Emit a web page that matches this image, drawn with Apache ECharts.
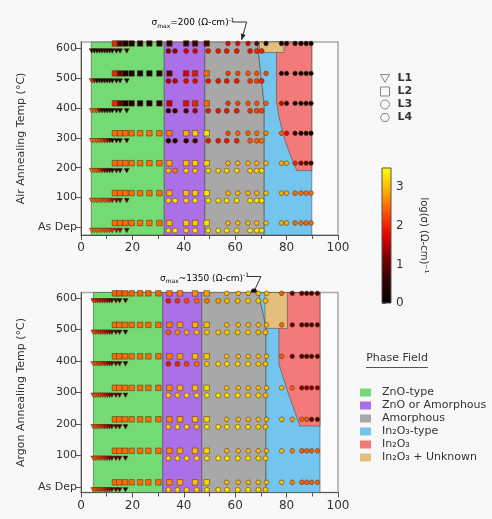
<!DOCTYPE html>
<html>
<head>
<meta charset="utf-8">
<script src="https://cdn.jsdelivr.net/npm/echarts@6/dist/echarts.min.js"></script>
<style>
  html, body { margin: 0; padding: 0; background: #f8f8f8; }
  #chart { width: 492px; height: 519px; }
</style>
</head>
<body>
<div id="chart"></div>
<script>
// annealing rows, As Dep first
const temps = [0, 100, 200, 300, 400, 500, 600];
const sigmaTicks = [0, 1, 2, 3];
const sigmaRange = [0, 3.5];

// ---- Air anneal: x = In content (at.%), values = log(sigma) per row
const airL1x = [4.2, 5.2, 6.2, 7.2, 8.2, 9.2, 10.2, 11.2, 12.2, 13.8, 15.2, 17.8];
const airL1 = [
  [2.5, 2.5, 2.5, 2.4, 2.4, 2.3, 2.3, 2.2, 2.0, 1.6, 1.3, 1.0],
  [2.5, 2.5, 2.4, 2.4, 2.3, 2.3, 2.2, 2.0, 1.5, 1.2, 0.9, 0.8],
  [2.5, 2.4, 2.3, 2.0, 1.6, 1.0, 0.6, 0.5, 0.4, 0.4, 0.4, 0.3],
  [2.5, 2.5, 2.4, 2.3, 2.1, 1.8, 1.4, 0.5, 0.3, 0.2, 0.2, 0.2],
  [2.5, 2.4, 2.2, 1.2, 0.4, 0.3, 0.2, 0.2, 0.2, 0.2, 0.2, 0.2],
  [2.1, 1.4, 0.4, 0.2, 0.2, 0.2, 0.2, 0.2, 0.2, 0.2, 0.2, 0.2],
  [0.2, 0.2, 0.2, 0.2, 0.2, 0.2, 0.2, 0.2, 0.2, 0.2, 0.2, 0.2]
];
const airL2x = [13.2, 15.2, 17.3, 19.7, 23, 26.6, 30.5, 34.4, 40.9, 44.4, 48.9];
const airL2 = [
  [2.5, 2.5, 2.5, 2.5, 2.5, 2.5, 2.5, 3.0, 3.1, 3.1, 3.3],
  [2.5, 2.5, 2.5, 2.5, 2.5, 2.5, 2.5, 2.9, 3.0, 3.1, 3.3],
  [2.5, 2.5, 2.5, 2.5, 2.5, 2.5, 2.5, 2.9, 3.0, 3.1, 3.2],
  [2.5, 2.5, 2.5, 2.5, 2.5, 2.5, 2.5, 2.6, 2.9, 3.1, 3.3],
  [2.0, 1.0, 0.3, 0.3, 0.3, 0.3, 0.5, 1.6, 1.8, 2.0, 2.5],
  [2.0, 1.0, 0.3, 0.3, 0.3, 0.3, 0.4, 0.9, 1.7, 1.9, 2.5],
  [2.0, 0.8, 0.3, 0.3, 0.3, 0.3, 0.3, 0.6, 0.5, 0.7, 0.8]
];
const airL3x = [34, 36.6, 40.9, 44.4, 49.5, 53.4, 56.7, 60.6, 65.8, 68.4, 70.3];
const airL3 = [
  [3.2, 3.3, 3.2, 3.3, 3.3, 3.3, 3.3, 3.3, 3.3, 3.3, 3.3],
  [3.2, 3.3, 3.2, 3.3, 3.3, 3.3, 3.3, 3.3, 3.3, 3.3, 3.3],
  [3.0, 2.6, 3.1, 3.1, 3.2, 3.2, 3.2, 3.2, 3.2, 3.2, 3.2],
  [0.2, 0.3, 0.5, 0.7, 1.9, 1.9, 1.9, 2.0, 2.3, 2.4, 2.5],
  [0.3, 0.5, 0.8, 1.4, 1.9, 1.9, 1.9, 1.9, 2.1, 2.2, 2.2],
  [1.4, 1.5, 1.8, 1.8, 1.9, 1.9, 1.9, 1.9, 2.1, 2.2, 2.0],
  [1.2, 1.3, 1.7, 1.7, 1.9, 1.9, 1.9, 1.9, 1.9, 2.0, 2.0]
];
const airL4x = [57.2, 61, 65, 68.4, 72, 78, 80, 83.3, 85.6, 87.6, 89.5];
const airL4 = [
  [3.0, 3.0, 3.0, 3.0, 3.0, 2.9, 2.9, 2.5, 2.5, 2.5, 2.5],
  [3.0, 3.0, 3.0, 3.0, 3.0, 2.9, 2.9, 2.5, 2.5, 2.5, 2.5],
  [3.0, 3.0, 3.0, 3.0, 3.0, 2.9, 2.9, 2.0, 1.2, 1.0, 0.8],
  [2.3, 2.4, 2.4, 2.5, 2.7, 2.4, 1.8, 0.6, 0.3, 0.3, 0.3],
  [2.1, 2.2, 2.3, 2.3, 2.4, 1.7, 0.6, 0.2, 0.2, 0.2, 0.2],
  [2.1, 2.2, 2.3, 2.3, 2.2, 0.3, 0.3, 0.2, 0.2, 0.2, 0.2],
  [1.8, 1.8, 1.7, 1.0, 0.2, 0.3, 0.3, 0.2, 0.2, 0.2, 0.2]
];

// ---- Argon anneal
const arL1x = [4.8, 5.7, 6.6, 7.5, 8.4, 9.3, 10.2, 11.1, 12, 13.6, 15, 17.3];
const arL1 = [
  [2.3, 2.3, 2.2, 2.1, 2.0, 1.8, 1.5, 1.2, 1.0, 0.8, 0.7, 0.6],
  [2.3, 2.3, 2.2, 2.1, 2.0, 1.8, 1.5, 1.2, 1.0, 0.8, 0.7, 0.6],
  [2.3, 2.2, 2.1, 2.0, 1.9, 1.7, 1.4, 1.1, 0.9, 0.8, 0.6, 0.5],
  [2.3, 2.3, 2.2, 2.1, 2.0, 1.8, 1.5, 1.2, 1.0, 0.8, 0.7, 0.6],
  [2.4, 2.3, 2.2, 2.1, 2.0, 1.8, 1.5, 1.2, 1.0, 0.8, 0.7, 0.6],
  [2.2, 2.1, 2.0, 1.9, 1.8, 1.6, 1.4, 1.1, 0.9, 0.7, 0.6, 0.5],
  [1.9, 1.9, 1.8, 1.7, 1.6, 1.4, 1.2, 1.0, 0.8, 0.6, 0.5, 0.4]
];
const arL2x = [13.2, 14.9, 17.1, 19.7, 23, 26.2, 30.1, 34.4, 38.5, 44.4, 48.9];
const arL2 = [
  [2.5, 2.5, 2.5, 2.5, 2.5, 2.5, 2.5, 2.7, 2.9, 3.0, 3.2],
  [2.5, 2.5, 2.5, 2.5, 2.5, 2.5, 2.5, 2.7, 2.9, 3.0, 3.2],
  [2.5, 2.5, 2.5, 2.5, 2.5, 2.5, 2.5, 2.7, 2.9, 3.0, 3.2],
  [2.5, 2.5, 2.5, 2.5, 2.5, 2.5, 2.5, 2.7, 2.9, 3.0, 3.2],
  [2.5, 2.5, 2.5, 2.5, 2.5, 2.5, 2.5, 2.6, 2.8, 3.0, 3.1],
  [2.5, 2.5, 2.5, 2.5, 2.5, 2.5, 2.5, 2.6, 2.8, 2.9, 3.0],
  [2.4, 2.4, 2.4, 2.4, 2.4, 2.4, 2.4, 2.5, 2.6, 2.7, 2.8]
];
const arL3x = [34, 37.5, 41.1, 45, 49, 53.4, 56.8, 61, 65, 69, 71.8];
const arL3 = [
  [3.2, 3.2, 3.2, 3.2, 3.3, 3.3, 3.3, 3.3, 3.3, 3.2, 3.1],
  [3.1, 3.2, 3.2, 3.2, 3.3, 3.4, 3.4, 3.3, 3.3, 3.2, 3.1],
  [3.1, 3.2, 3.2, 3.1, 3.3, 3.3, 3.3, 3.3, 3.2, 3.2, 3.1],
  [3.1, 3.1, 3.2, 3.2, 3.3, 3.3, 3.3, 3.3, 3.2, 3.2, 3.0],
  [1.9, 2.0, 2.2, 2.5, 3.1, 3.2, 3.2, 3.2, 3.2, 3.1, 3.0],
  [2.4, 2.7, 2.9, 3.0, 3.1, 3.1, 3.1, 3.1, 3.1, 3.0, 3.0],
  [1.9, 2.1, 2.3, 2.5, 2.6, 2.8, 3.0, 3.0, 3.1, 3.1, 3.0]
];
const arL4x = [56.7, 61.2, 65.1, 69, 72.2, 78.1, 82.2, 85.9, 87.8, 89.7, 92];
const arL4 = [
  [3.0, 3.0, 3.0, 3.0, 3.0, 3.0, 2.6, 2.4, 2.4, 2.4, 2.4],
  [3.0, 3.0, 3.0, 3.0, 3.0, 3.0, 2.6, 2.4, 2.4, 2.4, 2.4],
  [3.0, 3.0, 3.0, 3.0, 3.0, 3.0, 2.8, 2.4, 2.3, 1.0, 0.8],
  [3.0, 3.0, 3.0, 3.0, 3.0, 3.0, 2.4, 1.3, 1.3, 1.3, 1.3],
  [3.0, 3.0, 3.0, 3.0, 3.0, 2.4, 0.9, 0.9, 0.9, 0.9, 0.9],
  [3.0, 3.0, 3.0, 3.0, 3.0, 2.5, 0.9, 0.9, 0.9, 0.9, 0.9],
  [3.0, 3.0, 3.0, 3.0, 3.0, 2.4, 0.8, 0.8, 0.8, 0.8, 0.8]
];

// ---- phase field outlines [x, temp]
const phaseNames = ["ZnO-type", "ZnO or Amorphous", "Amorphous", "In\u2082O\u2083-type", "In\u2082O\u2083", "In\u2082O\u2083 + Unknown"];
const phaseColors = ["#74da74", "#ab6fe8", "#a8a8a8", "#74c5ee", "#f27a7a", "#e4bf7c"];
const airPhases = [
  [[4, -25], [32.4, -25], [32.4, 620], [4, 620]],
  [[32.4, -25], [48.2, -25], [48.2, 620], [32.4, 620]],
  [[48.2, -25], [71.3, -25], [71.3, 410], [68.6, 620], [48.2, 620]],
  [[71.3, -25], [89.8, -25], [89.8, 620], [68.6, 620], [71.3, 410]],
  [[76.1, 620], [89.8, 620], [89.8, 190], [84, 190], [82, 230], [79.4, 290], [77, 370], [76.1, 420]],
  [[69.4, 585], [79, 585], [79, 620], [69.4, 620]]
];
const arPhases = [
  [[4.8, -18], [31.8, -18], [31.8, 617], [4.8, 617]],
  [[31.8, -18], [47, -18], [47, 617], [31.8, 617]],
  [[47, -18], [72, -18], [72, 508], [69, 617], [47, 617]],
  [[72, -18], [93, -18], [93, 617], [69, 617], [72, 508]],
  [[77, 617], [93, 617], [93, 193], [85.2, 193], [80.5, 300], [77, 390]],
  [[71.6, 503], [80.3, 503], [80.3, 617], [71.6, 617]]
];

// black -> red -> yellow colour scale
const heatColors = ["#000000", "#300000", "#780000", "#e00000", "#ff5000", "#ffb000", "#ffff00"];

const triDown = "path://M0,0L10,0L5,8.66Z";
const hexagon = "path://M2.5,0L7.5,0L10,4.33L7.5,8.66L2.5,8.66L0,4.33Z";
const font = "DejaVu Sans";

const chart = echarts.init(document.getElementById("chart"));

function phaseSeries(i, pts, gi) {
  return {
    name: phaseNames[i],
    type: "custom",
    xAxisIndex: gi,
    yAxisIndex: gi,
    z: 1,
    silent: true,
    itemStyle: { color: phaseColors[i] },
    data: [pts[0]],
    renderItem: function (params, api) {
      return {
        type: "polygon",
        shape: { points: pts.map((p) => api.coord(p)) },
        style: { fill: phaseColors[i], stroke: "rgba(70,70,70,0.55)", lineWidth: 1 },
      };
    },
  };
}

function libSeries(name, symbol, size, dy, xs, rows, gi) {
  const data = [];
  rows.forEach((vals, r) => {
    vals.forEach((v, k) => data.push([xs[k], temps[r], v]));
  });
  return {
    name: name,
    type: "scatter",
    xAxisIndex: gi,
    yAxisIndex: gi,
    symbol: symbol,
    symbolSize: size,
    symbolOffset: [0, dy],
    z: 3,
    data: data,
    itemStyle: { borderColor: "rgba(80,55,30,0.8)", borderWidth: 0.7, opacity: 1 },
    emphasis: { disabled: true },
  };
}

function tempAxis(gi, min, max, name) {
  return {
    type: "value",
    gridIndex: gi,
    min: min,
    max: max,
    name: name,
    nameLocation: "middle",
    nameGap: 52,
    nameTextStyle: { fontSize: 11, color: "#333", fontFamily: font },
    axisLine: { show: true, lineStyle: { color: "#555" } },
    axisTick: { show: true, length: 5, customValues: temps, lineStyle: { color: "#555" } },
    axisLabel: {
      customValues: temps,
      fontSize: 11,
      color: "#333",
      fontFamily: font,
      margin: 4,
      formatter: (v) => (v === 0 ? "As Dep" : String(v)),
    },
    splitLine: { show: false },
  };
}

function compAxis(gi) {
  return {
    type: "value",
    gridIndex: gi,
    min: 0,
    max: 100,
    interval: 20,
    axisLine: { show: true, onZero: false, lineStyle: { color: "#555" } },
    axisTick: { length: 5, lineStyle: { color: "#555" } },
    minorTick: { show: true, splitNumber: 2, length: 4, lineStyle: { color: "#555" } },
    axisLabel: { fontSize: 12, color: "#333", fontFamily: font, margin: 7 },
    splitLine: { show: false },
  };
}

const series = [];
airPhases.forEach((p, i) => series.push(phaseSeries(i, p, 0)));
arPhases.forEach((p, i) => series.push(phaseSeries(i, p, 1)));
const firstScatter = series.length;
series.push(libSeries("L1", triDown, [5, 4.5], 3, airL1x, airL1, 0));
series.push(libSeries("L2", "rect", 5.5, -4.5, airL2x, airL2, 0));
series.push(libSeries("L3", "circle", 5, 3, airL3x, airL3, 0));
series.push(libSeries("L4", hexagon, [5, 4.4], -4.5, airL4x, airL4, 0));
series.push(libSeries("L1", triDown, [5, 4.5], 3, arL1x, arL1, 1));
series.push(libSeries("L2", "rect", 5.5, -4.5, arL2x, arL2, 1));
series.push(libSeries("L3", "circle", 5, 3, arL3x, arL3, 1));
series.push(libSeries("L4", hexagon, [5, 4.4], -4.5, arL4x, arL4, 1));
const scatterIdx = [];
for (let i = firstScatter; i < series.length; i++) scatterIdx.push(i);

// colour bar drawn in its own small grid
series.push({
  type: "custom",
  xAxisIndex: 2,
  yAxisIndex: 2,
  silent: true,
  data: [[0, sigmaRange[0]]],
  renderItem: function (params, api) {
    const p0 = api.coord([0, sigmaRange[0]]);
    const p1 = api.coord([1, sigmaRange[1]]);
    const stops = heatColors.map((c, i) => ({ offset: i / (heatColors.length - 1), color: c }));
    return {
      type: "rect",
      shape: { x: p0[0], y: p1[1], width: p1[0] - p0[0], height: p0[1] - p1[1] },
      style: { fill: new echarts.graphic.LinearGradient(0, 1, 0, 0, stops), stroke: "#555", lineWidth: 0.6 },
    };
  },
});

const hollow = { color: "rgba(0,0,0,0)", borderColor: "#888", borderWidth: 1 };

const option = {
  animation: false,
  backgroundColor: "#f8f8f8",
  textStyle: { fontFamily: font },
  grid: [
    { left: 81, top: 42, width: 257, height: 193, show: true, backgroundColor: "#fbfbfb", borderColor: "#aaa", borderWidth: 1.5 },
    { left: 81, top: 292.5, width: 257, height: 200, show: true, backgroundColor: "#fbfbfb", borderColor: "#aaa", borderWidth: 1.5 },
    { left: 382, top: 168, width: 9, height: 135 },
  ],
  xAxis: [compAxis(0), compAxis(1), { type: "value", gridIndex: 2, show: false, min: 0, max: 1 }],
  yAxis: [
    tempAxis(0, -25, 620, "Air Annealing Temp (\u00B0C)"),
    tempAxis(1, -18, 617, "Argon Annealing Temp (\u00B0C)"),
    {
      type: "value",
      gridIndex: 2,
      position: "right",
      min: sigmaRange[0],
      max: sigmaRange[1],
      name: "log(\u03C3) (\u03A9-cm)\u207B\u00B9",
      nameLocation: "middle",
      nameRotate: -90,
      nameGap: 28,
      nameTextStyle: { fontSize: 10, color: "#333", fontFamily: font },
      axisLine: { show: false },
      axisTick: { show: true, length: 4, customValues: sigmaTicks, lineStyle: { color: "#555" } },
      axisLabel: { customValues: sigmaTicks, fontSize: 12, color: "#333", margin: 5 },
      splitLine: { show: false },
    },
  ],
  visualMap: {
    type: "continuous",
    show: false,
    min: sigmaRange[0],
    max: sigmaRange[1],
    dimension: 2,
    seriesIndex: scatterIdx,
    inRange: { color: heatColors },
  },
  legend: [
    {
      data: [
        { name: "L1", icon: triDown, itemStyle: hollow },
        { name: "L2", icon: "rect", itemStyle: hollow },
        { name: "L3", icon: "circle", itemStyle: hollow },
        { name: "L4", icon: hexagon, itemStyle: hollow },
      ],
      orient: "vertical",
      left: 375,
      top: 68,
      itemWidth: 9,
      itemHeight: 9,
      itemGap: 2,
      selectedMode: false,
      textStyle: { fontSize: 11, fontWeight: "bold", color: "#333", padding: [0, 0, 0, 3] },
    },
    {
      data: phaseNames.map((n) => ({ name: n, icon: "rect" })),
      orient: "vertical",
      left: 355,
      top: 382,
      itemWidth: 11,
      itemHeight: 8,
      itemGap: 2,
      selectedMode: false,
      textStyle: { fontSize: 11, color: "#333", padding: [0, 0, 0, 6] },
    },
  ],
  series: series,
};
chart.setOption(option);

// annotations: arrows pointing at the highest-conductivity spots
function arrowHead(tip, from, len, half) {
  const dx = tip[0] - from[0];
  const dy = tip[1] - from[1];
  const d = Math.sqrt(dx * dx + dy * dy);
  const ux = dx / d;
  const uy = dy / d;
  const bx = tip[0] - ux * len;
  const by = tip[1] - uy * len;
  return [tip, [bx - uy * half, by + ux * half], [bx + uy * half, by - ux * half]];
}
const tipAir = chart.convertToPixel({ gridIndex: 0 }, [62.5, 620]);
tipAir[1] -= 2;
const tipAr = chart.convertToPixel({ gridIndex: 1 }, [67.3, 617]);
tipAr[1] -= 1;
const bendAir = [tipAir[0] + 5, tipAir[1] - 18];
const bendAr = [tipAr[0] + 7, tipAr[1] - 15];
const rich = {
  a: { fontSize: 9, color: "#444", fontFamily: font, lineHeight: 12 },
  s: { fontSize: 6, color: "#444", fontFamily: font, lineHeight: 12, verticalAlign: "bottom", padding: [3, 0, 0, 0] },
  u: { fontSize: 6, color: "#444", fontFamily: font, lineHeight: 12, verticalAlign: "top", padding: [0, 0, 4, 0] },
};
chart.setOption({
  graphic: [
    {
      type: "text",
      x: bendAir[0] - 12,
      y: bendAir[1] + 1,
      style: { text: "{a|\u03C3}{s|max}{a|=200 (\u03A9-cm)}{u|-1}", rich: rich, align: "right", verticalAlign: "middle" },
    },
    { type: "polyline", shape: { points: [[bendAir[0] - 14, bendAir[1]], bendAir, tipAir] }, style: { stroke: "#333", lineWidth: 1, fill: null } },
    { type: "polygon", shape: { points: arrowHead(tipAir, bendAir, 6, 2.5) }, style: { fill: "#222" } },
    {
      type: "text",
      x: bendAr[0] - 12,
      y: bendAr[1] + 2,
      style: { text: "{a|\u03C3}{s|max}{a|~1350 (\u03A9-cm)}{u|-1}", rich: rich, align: "right", verticalAlign: "middle" },
    },
    { type: "polyline", shape: { points: [[bendAr[0] - 14, bendAr[1]], bendAr, tipAr] }, style: { stroke: "#333", lineWidth: 1, fill: null } },
    { type: "circle", shape: { cx: tipAr[0], cy: tipAr[1], r: 3 }, style: { fill: "#111" } },
    { type: "text", x: 397, y: 358, style: { text: "Phase Field", fontSize: 11, fill: "#333", fontFamily: font, align: "center", verticalAlign: "middle" } },
    { type: "line", shape: { x1: 366, y1: 367.5, x2: 428, y2: 367.5 }, style: { stroke: "#555", lineWidth: 1 } },
  ],
});
</script>
</body>
</html>
